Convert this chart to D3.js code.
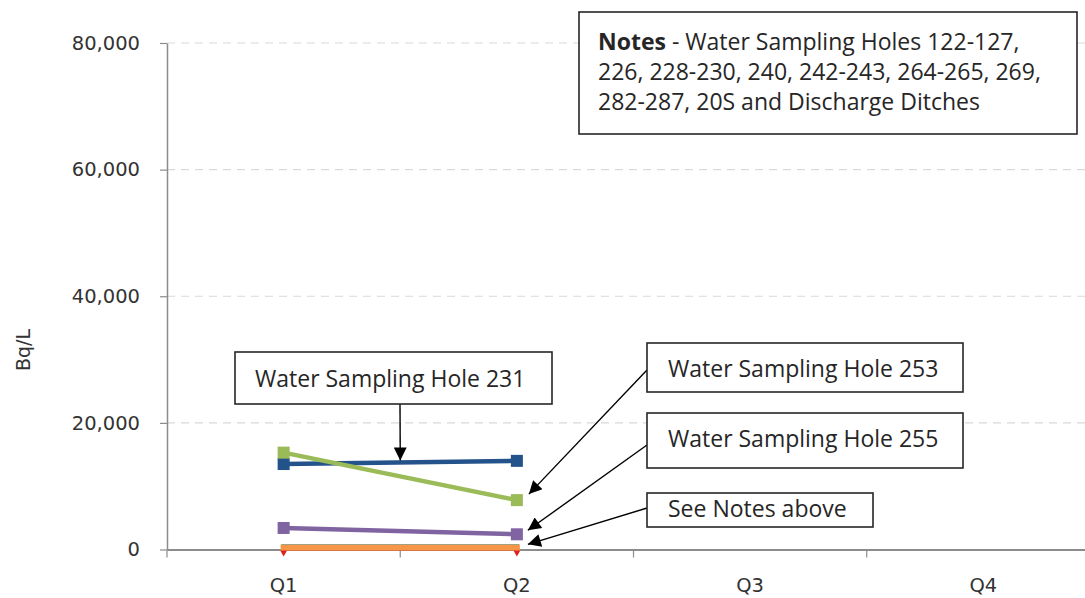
<!DOCTYPE html>
<html>
<head>
<meta charset="utf-8">
<script src="https://cdn.jsdelivr.net/npm/d3@7/dist/d3.min.js"></script>
<style>
  html, body { margin: 0; padding: 0; background: #ffffff; }
  svg { display: block; }
</style>
</head>
<body>
<svg id="chart" width="1085" height="598"></svg>
<script>
// ---- data ----
const categories = ["Q1", "Q2", "Q3", "Q4"];
const hole231 = [13500, 14000, null, null];
const hole253 = [15300, 7800, null, null];
const hole255 = [3400, 2400, null, null];
const otherHolesTeal = [500, 500, null, null];
const otherHolesOrange = [300, 300, null, null];
const otherHolesRed = [0, 0, null, null];
const yTicks = [0, 20000, 40000, 60000, 80000];
const yLabel = "Bq/L";
const notesBold = "Notes";
const notesLines = [" - Water Sampling Holes 122-127,", "226, 228-230, 240, 242-243, 264-265, 269,", "282-287, 20S and Discharge Ditches"];

// listed in drawing order (bottom first)
const series = [
  { name: "Other holes (red)", values: otherHolesRed, color: "#e0201e", width: 2, marker: "diamond" },
  { name: "Other holes (teal)", values: otherHolesTeal, color: "#4bacc6", width: 4.5, marker: "none" },
  { name: "Other holes (orange)", values: otherHolesOrange, color: "#f79646", width: 6, marker: "none" },
  { name: "Water Sampling Hole 231", values: hole231, color: "#24528a", width: 4.5, marker: "square" },
  { name: "Water Sampling Hole 253", values: hole253, color: "#9bbb59", width: 4.5, marker: "square" },
  { name: "Water Sampling Hole 255", values: hole255, color: "#8064a2", width: 4.5, marker: "square" }
];

// ---- layout ----
const svg = d3.select("#chart");
const plotLeft = 167, plotRight = 1100, plotTop = 43, plotBottom = 549.5;
const axisFont = "DejaVu Sans, Verdana, sans-serif";
const boxFont = "'Open Sans', 'DejaVu Sans', sans-serif";
const boxFontSize = "23px";

const x = d3.scaleBand().domain(categories).range([plotLeft, plotRight]).padding(0);
const xc = d => x(d) + x.bandwidth() / 2;
const y = d3.scaleLinear().domain([0, 80000]).range([plotBottom, plotTop]);

// gridlines
svg.append("g").selectAll("line").data(yTicks.filter(t => t > 0)).join("line")
  .attr("x1", plotLeft).attr("x2", 1085)
  .attr("y1", d => y(d)).attr("y2", d => y(d))
  .attr("stroke", "#d9d9d9").attr("stroke-width", 1.2).attr("stroke-dasharray", "8,6");

// y axis
const yAxis = svg.append("g").attr("transform", `translate(${plotLeft},0)`)
  .call(d3.axisLeft(y).tickValues(yTicks).tickFormat(d3.format(",")).tickSize(7).tickSizeOuter(0).tickPadding(20));
yAxis.select(".domain").attr("stroke", "#8c8c8c").attr("stroke-width", 1.5);
yAxis.selectAll(".tick line").attr("stroke", "#8c8c8c").attr("stroke-width", 1.2);
yAxis.selectAll(".tick text").attr("fill", "#333333").style("font-family", axisFont).style("font-size", "19.5px");

// x axis
const xAxis = svg.append("g").attr("transform", `translate(0,${plotBottom})`)
  .call(d3.axisBottom(x).tickSize(0).tickSizeOuter(0).tickPadding(29));
xAxis.select(".domain").attr("stroke", "#8c8c8c").attr("stroke-width", 1.8);
xAxis.selectAll(".tick text").attr("fill", "#333333").style("font-family", axisFont).style("font-size", "19.5px");
xAxis.append("g").selectAll("line").data(categories).join("line")
  .attr("x1", d => x(d)).attr("x2", d => x(d))
  .attr("y1", 0).attr("y2", 8)
  .attr("stroke", "#8c8c8c").attr("stroke-width", 1.2);

// y label
svg.append("text")
  .attr("transform", `translate(30,350) rotate(-90)`)
  .attr("text-anchor", "middle")
  .attr("fill", "#333333")
  .style("font-family", axisFont).style("font-size", "19px")
  .text(yLabel);

// series lines
const line = d3.line()
  .defined(d => d.v !== null)
  .x(d => xc(d.c))
  .y(d => y(d.v));

const gSeries = svg.append("g");
series.forEach(s => {
  const pts = categories.map((c, i) => ({ c: c, v: s.values[i] }));
  gSeries.append("path")
    .datum(pts)
    .attr("d", line)
    .attr("fill", "none")
    .attr("stroke", s.color)
    .attr("stroke-width", s.width)
    .attr("stroke-linecap", s.marker === "none" ? "square" : "butt");
  const valid = pts.filter(d => d.v !== null);
  if (s.marker === "square") {
    gSeries.append("g").selectAll("rect").data(valid).join("rect")
      .attr("x", d => xc(d.c) - 6).attr("y", d => y(d.v) - 6)
      .attr("width", 12).attr("height", 12)
      .attr("fill", s.color);
  } else if (s.marker === "diamond") {
    gSeries.append("g").selectAll("path").data(valid).join("path")
      .attr("d", d3.symbol(d3.symbolDiamond, 34))
      .attr("transform", d => `translate(${xc(d.c)},${y(d.v) + 1.5})`)
      .attr("fill", s.color);
  }
});

// arrowhead marker
const defs = svg.append("defs");
defs.append("marker")
  .attr("id", "arrow")
  .attr("viewBox", "0 0 10 10")
  .attr("refX", 10).attr("refY", 5)
  .attr("markerUnits", "userSpaceOnUse")
  .attr("markerWidth", 15).attr("markerHeight", 13)
  .attr("orient", "auto")
  .append("path").attr("d", "M0,0 L10,5 L0,10 Z").attr("fill", "#000");

// callout boxes
function box(x0, y0, w, h) {
  svg.append("rect")
    .attr("x", x0).attr("y", y0).attr("width", w).attr("height", h)
    .attr("fill", "#fff").attr("stroke", "#262626").attr("stroke-width", 1.6);
}
function boxText(tx, ty, str) {
  svg.append("text").attr("x", tx).attr("y", ty)
    .attr("fill", "#262626")
    .style("font-family", boxFont).style("font-size", boxFontSize)
    .text(str);
}
function arrow(x1, y1, x2, y2) {
  svg.append("line")
    .attr("x1", x1).attr("y1", y1).attr("x2", x2).attr("y2", y2)
    .attr("stroke", "#000").attr("stroke-width", 1.4)
    .attr("marker-end", "url(#arrow)");
}

// Hole 231
arrow(400, 404, x("Q2"), y((hole231[0] + hole231[1]) / 2) - 2);
box(235, 352, 317, 52);
boxText(255, 387, "Water Sampling Hole 231");

// Hole 253
arrow(647, 370, xc("Q2") + 12, y(hole253[1]) - 6);
box(647, 343, 316, 49);
boxText(668, 377, "Water Sampling Hole 253");

// Hole 255
arrow(647, 445, xc("Q2") + 11, y(hole255[1]) - 4);
box(647, 413, 316, 55);
boxText(668, 447, "Water Sampling Hole 255");

// See notes
arrow(647, 508, xc("Q2") + 11, y(otherHolesTeal[1]) - 2);
box(647, 493, 226, 34);
boxText(668, 517, "See Notes above");

// Notes box
box(579, 12, 498, 122);
const nt = svg.append("text").attr("x", 598).attr("y", 50)
  .attr("fill", "#262626")
  .style("font-family", boxFont).style("font-size", boxFontSize);
nt.append("tspan").style("font-weight", "bold").text(notesBold);
nt.append("tspan").text(notesLines[0]);
notesLines.slice(1).forEach((l, i) => {
  svg.append("text").attr("x", 598).attr("y", 80 + i * 30)
    .attr("fill", "#262626")
    .style("font-family", boxFont).style("font-size", boxFontSize)
    .text(l);
});
</script>
</body>
</html>
